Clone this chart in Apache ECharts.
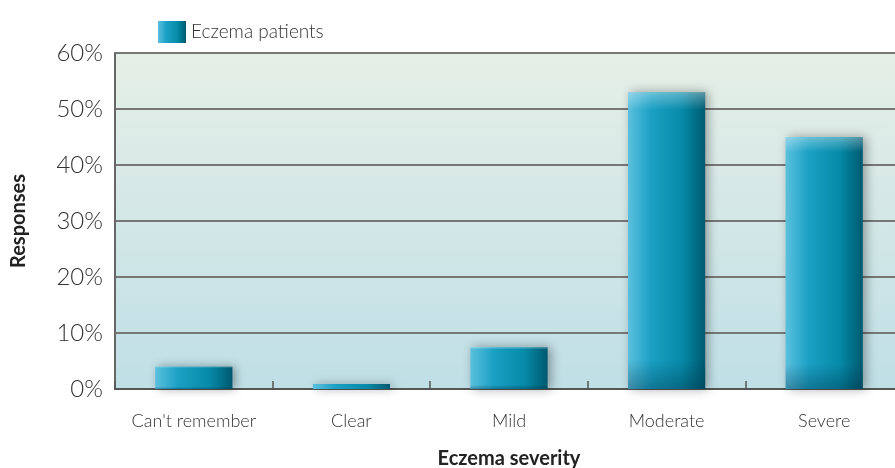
<!DOCTYPE html>
<html><head><meta charset="utf-8">
<script src="https://cdn.jsdelivr.net/npm/echarts@6/dist/echarts.min.js"></script>
<style>html,body{margin:0;padding:0;background:#fff}#c{width:895px;height:468px}</style>
</head><body><div id="c"></div>
<script>
const categories = ["Can't remember", "Clear", "Mild", "Moderate", "Severe"];
const seriesName = "Eczema patients";
const values = [4, 0.9, 7.5, 53, 45];
const yTicks = [0, 10, 20, 30, 40, 50, 60];

const chart = echarts.init(document.getElementById('c'));
const G = echarts.graphic.LinearGradient;
chart.setOption({
  animation: false,
  grid: {
    left: 115, top: 53, width: 788, height: 336,
    outerBoundsMode: 'none', containLabel: false,
    show: true, borderWidth: 0,
    backgroundColor: new G(0, 0, 0, 1, [
      {offset: 0, color: '#e6efe7'},
      {offset: 1, color: '#bfdfe6'}
    ])
  },
  legend: {
    left: 153, top: 16, itemWidth: 28, itemHeight: 22, itemGap: 6, icon: 'rect',
    textStyle: {fontFamily: 'Lato', fontWeight: 300, fontSize: 19, color: '#333'},
    data: [seriesName]
  },
  xAxis: {
    type: 'category', data: categories,
    name: 'Eczema severity', nameLocation: 'middle', nameGap: 60,
    nameTextStyle: {fontFamily: 'Lato', fontWeight: 700, fontSize: 20, color: '#222'},
    axisLine: {lineStyle: {color: '#555', width: 2}},
    axisTick: {show: true, inside: true, length: 8, lineStyle: {color: '#555', width: 1.5}},
    axisLabel: {interval: 0, fontFamily: 'Lato', fontWeight: 300, fontSize: 18, color: '#333', margin: 23}
  },
  yAxis: {
    type: 'value', min: 0, max: 60, interval: 10,
    name: 'Responses', nameLocation: 'middle', nameGap: 86,
    nameTextStyle: {fontFamily: 'Lato', fontWeight: 700, fontSize: 20, color: '#222'},
    axisLine: {show: true, lineStyle: {color: '#666', width: 2}},
    axisTick: {show: false},
    splitLine: {lineStyle: {color: '#777', width: 2}},
    axisLabel: {
      fontFamily: 'Lato', fontWeight: 300, fontSize: 24, color: '#333', margin: 12,
      formatter: v => yTicks.includes(v) ? v + '%' : ''
    }
  },
  series: [{
    name: seriesName, type: 'bar', data: values, barWidth: '49%',
    itemStyle: {
      color: new G(0, 0, 1, 0, [
        {offset: 0, color: '#5cc0de'},
        {offset: 0.3, color: '#1aa0c4'},
        {offset: 0.7, color: '#068aa8'},
        {offset: 1, color: '#005a70'}
      ]),
      shadowColor: 'rgba(0,0,0,0.35)', shadowBlur: 10, shadowOffsetX: 3, shadowOffsetY: 0
    }
  }, {
    name: 'shade', type: 'bar', data: values, barWidth: '49%', barGap: '-100%',
    silent: true, z: 3,
    itemStyle: {
      color: new G(0, 0, 0, 1, [
        {offset: 0, color: 'rgba(255,255,255,0.35)'},
        {offset: 0.06, color: 'rgba(255,255,255,0)'},
        {offset: 0.9, color: 'rgba(0,40,60,0)'},
        {offset: 1, color: 'rgba(0,40,60,0.35)'}
      ])
    }
  }]
});
</script></body></html>
